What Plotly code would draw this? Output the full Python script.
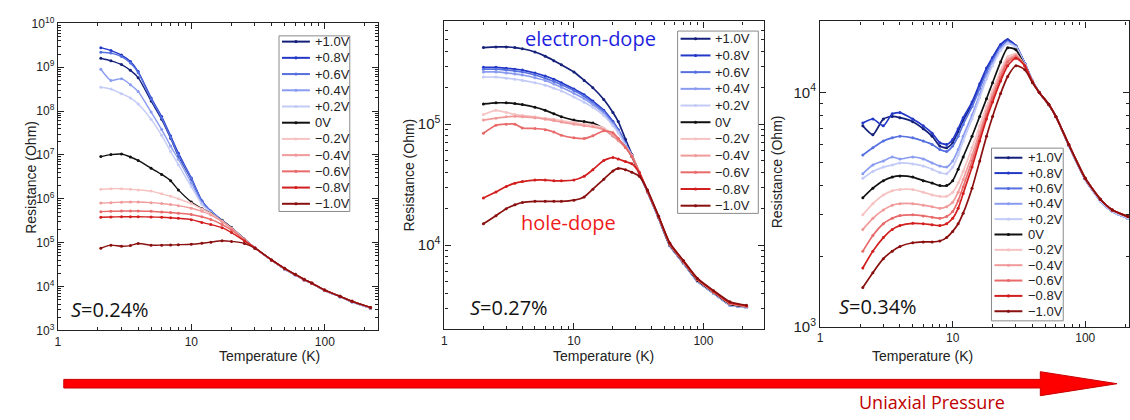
import plotly.graph_objects as go

W, H = 1130, 420

labels = ["+1.0V", "+0.8V", "+0.6V", "+0.4V", "+0.2V", "0V",
          "\u22120.2V", "\u22120.4V", "\u22120.6V", "\u22120.8V", "\u22121.0V"]
colors = ["#14207a", "#2438c8", "#5670e0", "#8a9cf0", "#c3cbf6", "#111111",
          "#f6c2c2", "#f09a9a", "#e86a6a", "#d21e1e", "#8a0f0f"]

# ---------------- Panel 1 (S=0.24%) ----------------
T1 = [2.1, 2.5, 3, 3.5, 4, 5, 6, 7, 8, 10, 12, 14, 17, 20, 25, 30, 40, 50, 60, 70, 80, 100, 130, 160, 220]
p1_p10 = [1.6e9, 1.4e9, 1.15e9, 8.5e8, 5.8e8, 1.7e8, 6.5e7, 2.4e7, 9.5e6, 2.8e6, 8.7e5, 5.1e5, 3.2e5, 2.2e5, 1.2e5, 7.6e4, 4.0e4, 2.5e4, 1.85e4, 1.42e4, 1.18e4, 8.1e3, 5.9e3, 4.5e3, 3.25e3]
p1_p08 = [2.8e9, 2.4e9, 1.9e9, 1.35e9, 8.0e8, 2.0e8, 7.5e7, 2.7e7, 1.1e7, 3.0e6, 9.0e5, 5.3e5, 3.25e5, 2.2e5, 1.2e5, 7.6e4, 4.0e4, 2.5e4, 1.85e4, 1.42e4, 1.18e4, 8.1e3, 5.9e3, 4.5e3, 3.25e3]
p1_p06 = [2.2e9, 2.1e9, 1.75e9, 1.25e9, 7.5e8, 1.9e8, 7.0e7, 2.5e7, 1.0e7, 2.9e6, 8.8e5, 5.2e5, 3.2e5, 2.2e5, 1.2e5, 7.6e4, 4.0e4, 2.5e4, 1.85e4, 1.42e4, 1.18e4, 8.1e3, 5.9e3, 4.5e3, 3.25e3]
p1_p04 = [9.0e8, 5.0e8, 5.5e8, 4.0e8, 2.8e8, 9.5e7, 3.8e7, 1.6e7, 8.0e6, 2.3e6, 8.0e5, 5.0e5, 3.15e5, 2.2e5, 1.2e5, 7.6e4, 4.0e4, 2.5e4, 1.85e4, 1.42e4, 1.18e4, 8.1e3, 5.9e3, 4.5e3, 3.25e3]
p1_p02 = [3.5e8, 3.2e8, 2.5e8, 2.0e8, 1.45e8, 6.5e7, 2.8e7, 1.2e7, 6.0e6, 1.9e6, 7.5e5, 4.9e5, 3.1e5, 2.15e5, 1.2e5, 7.6e4, 4.0e4, 2.5e4, 1.85e4, 1.42e4, 1.18e4, 8.1e3, 5.9e3, 4.5e3, 3.25e3]
p1_0 = [9.2e6, 1.02e7, 1.05e7, 9.0e6, 7.5e6, 5.0e6, 3.6e6, 2.6e6, 1.6e6, 8.5e5, 6.0e5, 4.7e5, 3.15e5, 2.2e5, 1.2e5, 7.6e4, 4.0e4, 2.55e4, 1.88e4, 1.44e4, 1.19e4, 8.2e3, 6.0e3, 4.6e3, 3.3e3]
p1_m02 = [1.65e6, 1.7e6, 1.7e6, 1.65e6, 1.6e6, 1.5e6, 1.3e6, 1.15e6, 1.0e6, 7.8e5, 5.9e5, 4.6e5, 3.1e5, 2.15e5, 1.2e5, 7.6e4, 4.0e4, 2.55e4, 1.88e4, 1.44e4, 1.19e4, 8.2e3, 6.0e3, 4.6e3, 3.3e3]
p1_m04 = [8.0e5, 8.2e5, 8.4e5, 8.5e5, 8.5e5, 8.2e5, 7.8e5, 7.4e5, 7.0e5, 6.1e5, 5.2e5, 4.3e5, 3.0e5, 2.1e5, 1.18e5, 7.6e4, 4.0e4, 2.55e4, 1.88e4, 1.44e4, 1.19e4, 8.2e3, 6.0e3, 4.6e3, 3.3e3]
p1_m06 = [5.1e5, 5.2e5, 5.3e5, 5.3e5, 5.3e5, 5.2e5, 5.0e5, 4.9e5, 4.7e5, 4.4e5, 3.9e5, 3.4e5, 2.6e5, 1.95e5, 1.15e5, 7.6e4, 4.0e4, 2.55e4, 1.88e4, 1.44e4, 1.19e4, 8.2e3, 6.0e3, 4.6e3, 3.3e3]
p1_m08 = [3.8e5, 3.85e5, 3.9e5, 3.9e5, 3.9e5, 3.85e5, 3.8e5, 3.7e5, 3.6e5, 3.35e5, 2.9e5, 2.6e5, 2.2e5, 1.7e5, 1.1e5, 7.6e4, 4.05e4, 2.6e4, 1.9e4, 1.46e4, 1.2e4, 8.3e3, 6.0e3, 4.6e3, 3.35e3]
p1_m10 = [7.5e4, 8.8e4, 8.3e4, 8.6e4, 9.6e4, 8.8e4, 8.8e4, 8.9e4, 9.0e4, 9.2e4, 9.7e4, 1.03e5, 1.11e5, 1.07e5, 9.6e4, 7.5e4, 4.05e4, 2.6e4, 1.9e4, 1.46e4, 1.2e4, 8.3e3, 6.0e3, 4.6e3, 3.35e3]

# ---------------- Panel 2 (S=0.27%) ----------------
T2 = [2.0, 2.5, 3, 3.5, 4, 5, 6, 7, 8, 10, 12, 14, 17, 20, 22, 25, 28, 32, 37, 45, 55, 70, 90, 120, 160, 215]
p2_p10 = [4.3e5, 4.35e5, 4.35e5, 4.3e5, 4.2e5, 3.95e5, 3.65e5, 3.35e5, 3.1e5, 2.7e5, 2.3e5, 2.0e5, 1.6e5, 1.25e5, 1.05e5, 7.5e4, 5.6e4, 3.95e4, 2.75e4, 1.68e4, 9.9e3, 7.1e3, 5.0e3, 4.0e3, 3.2e3, 3.05e3]
p2_p08 = [2.95e5, 2.95e5, 2.9e5, 2.85e5, 2.8e5, 2.65e5, 2.5e5, 2.35e5, 2.2e5, 1.95e5, 1.75e5, 1.55e5, 1.3e5, 1.05e5, 9.0e4, 7.0e4, 5.5e4, 3.95e4, 2.75e4, 1.68e4, 9.9e3, 7.1e3, 5.0e3, 4.0e3, 3.2e3, 3.05e3]
p2_p06 = [2.85e5, 2.85e5, 2.8e5, 2.75e5, 2.7e5, 2.55e5, 2.4e5, 2.25e5, 2.12e5, 1.9e5, 1.7e5, 1.5e5, 1.27e5, 1.03e5, 8.9e4, 6.9e4, 5.5e4, 3.95e4, 2.75e4, 1.68e4, 9.9e3, 7.1e3, 5.0e3, 4.0e3, 3.2e3, 3.05e3]
p2_p04 = [2.7e5, 2.7e5, 2.65e5, 2.6e5, 2.55e5, 2.42e5, 2.3e5, 2.15e5, 2.02e5, 1.8e5, 1.62e5, 1.45e5, 1.23e5, 1.0e5, 8.7e4, 6.8e4, 5.5e4, 3.95e4, 2.75e4, 1.68e4, 9.9e3, 7.1e3, 5.0e3, 4.0e3, 3.2e3, 3.05e3]
p2_p02 = [2.45e5, 2.45e5, 2.4e5, 2.35e5, 2.3e5, 2.2e5, 2.1e5, 1.98e5, 1.88e5, 1.68e5, 1.52e5, 1.38e5, 1.18e5, 9.7e4, 8.5e4, 6.7e4, 5.4e4, 3.95e4, 2.75e4, 1.68e4, 9.9e3, 7.1e3, 5.0e3, 4.0e3, 3.2e3, 3.05e3]
p2_0 = [1.47e5, 1.5e5, 1.5e5, 1.48e5, 1.45e5, 1.38e5, 1.3e5, 1.22e5, 1.15e5, 1.08e5, 1.05e5, 1.02e5, 9.2e4, 8.0e4, 7.4e4, 6.5e4, 5.4e4, 3.95e4, 2.78e4, 1.7e4, 1.0e4, 7.2e3, 5.1e3, 4.05e3, 3.25e3, 3.1e3]
p2_m02 = [1.2e5, 1.3e5, 1.25e5, 1.2e5, 1.18e5, 1.15e5, 1.12e5, 1.1e5, 1.07e5, 1.03e5, 1.0e5, 9.8e4, 9.3e4, 8.2e4, 7.5e4, 6.5e4, 5.5e4, 4.0e4, 2.8e4, 1.72e4, 1.02e4, 7.3e3, 5.2e3, 4.1e3, 3.3e3, 3.12e3]
p2_m04 = [1.08e5, 1.12e5, 1.15e5, 1.16e5, 1.15e5, 1.13e5, 1.1e5, 1.07e5, 1.04e5, 1.0e5, 9.7e4, 9.5e4, 9.0e4, 8.0e4, 7.3e4, 6.4e4, 5.5e4, 4.0e4, 2.8e4, 1.72e4, 1.02e4, 7.3e3, 5.2e3, 4.1e3, 3.3e3, 3.12e3]
p2_m06 = [8.4e4, 9.8e4, 1.0e5, 1.0e5, 9.3e4, 9.2e4, 9.0e4, 8.6e4, 8.1e4, 7.7e4, 7.6e4, 8.0e4, 8.8e4, 8.5e4, 7.6e4, 6.4e4, 5.4e4, 4.0e4, 2.8e4, 1.72e4, 1.02e4, 7.3e3, 5.2e3, 4.1e3, 3.3e3, 3.12e3]
p2_m08 = [2.45e4, 2.75e4, 3.05e4, 3.25e4, 3.35e4, 3.45e4, 3.45e4, 3.4e4, 3.4e4, 3.45e4, 3.7e4, 4.2e4, 5.0e4, 5.3e4, 5.15e4, 4.9e4, 4.7e4, 3.95e4, 2.8e4, 1.73e4, 1.03e4, 7.4e3, 5.25e3, 4.15e3, 3.35e3, 3.15e3]
p2_m10 = [1.5e4, 1.75e4, 2.0e4, 2.15e4, 2.25e4, 2.3e4, 2.3e4, 2.3e4, 2.3e4, 2.35e4, 2.5e4, 2.9e4, 3.5e4, 4.1e4, 4.3e4, 4.2e4, 4.0e4, 3.7e4, 2.85e4, 1.74e4, 1.04e4, 7.45e3, 5.3e3, 4.2e3, 3.4e3, 3.18e3]

# ---------------- Panel 3 (S=0.34%) ----------------
T3 = [2.1, 2.5, 3, 3.5, 4, 5, 6, 7, 8, 9, 10, 11, 12, 14, 16, 18, 20, 23, 26, 30, 35, 40, 45, 53, 60, 75, 100, 130, 160, 210]
p3_p10 = [7.2e3, 6.6e3, 7.7e3, 7.9e3, 7.8e3, 7.5e3, 7.0e3, 6.5e3, 5.9e3, 5.8e3, 6.1e3, 6.8e3, 7.6e3, 8.9e3, 1.07e4, 1.25e4, 1.4e4, 1.6e4, 1.68e4, 1.58e4, 1.33e4, 1.12e4, 1.0e4, 8.85e3, 7.9e3, 5.95e3, 4.25e3, 3.45e3, 3.1e3, 2.9e3]
p3_p08 = [7.4e3, 7.7e3, 7.2e3, 8.1e3, 8.2e3, 7.7e3, 7.2e3, 6.7e3, 6.1e3, 6.0e3, 6.3e3, 7.0e3, 7.8e3, 9.1e3, 1.09e4, 1.27e4, 1.41e4, 1.6e4, 1.68e4, 1.58e4, 1.33e4, 1.12e4, 1.0e4, 8.85e3, 7.9e3, 5.95e3, 4.25e3, 3.45e3, 3.1e3, 2.9e3]
p3_p06 = [5.4e3, 5.8e3, 6.2e3, 6.4e3, 6.5e3, 6.4e3, 6.2e3, 6.0e3, 5.7e3, 5.6e3, 5.9e3, 6.5e3, 7.3e3, 8.7e3, 1.04e4, 1.22e4, 1.37e4, 1.56e4, 1.65e4, 1.57e4, 1.33e4, 1.12e4, 1.0e4, 8.85e3, 7.9e3, 5.95e3, 4.25e3, 3.45e3, 3.1e3, 2.9e3]
p3_p04 = [4.5e3, 4.9e3, 5.1e3, 5.3e3, 5.2e3, 5.3e3, 5.2e3, 5.0e3, 4.85e3, 4.8e3, 5.1e3, 5.7e3, 6.5e3, 8.0e3, 9.8e3, 1.17e4, 1.33e4, 1.53e4, 1.63e4, 1.56e4, 1.32e4, 1.12e4, 1.0e4, 8.85e3, 7.9e3, 5.95e3, 4.25e3, 3.45e3, 3.1e3, 2.9e3]
p3_p02 = [4.3e3, 4.6e3, 4.8e3, 4.9e3, 5.0e3, 4.95e3, 4.85e3, 4.7e3, 4.55e3, 4.5e3, 4.8e3, 5.4e3, 6.2e3, 7.7e3, 9.5e3, 1.14e4, 1.3e4, 1.51e4, 1.62e4, 1.56e4, 1.32e4, 1.12e4, 1.0e4, 8.85e3, 7.9e3, 5.95e3, 4.25e3, 3.45e3, 3.1e3, 2.9e3]
p3_0 = [3.55e3, 3.9e3, 4.2e3, 4.35e3, 4.4e3, 4.35e3, 4.2e3, 4.1e3, 4.0e3, 4.0e3, 4.2e3, 4.7e3, 5.3e3, 6.5e3, 7.9e3, 9.4e3, 1.1e4, 1.35e4, 1.55e4, 1.52e4, 1.3e4, 1.11e4, 1.0e4, 8.9e3, 7.9e3, 6.0e3, 4.3e3, 3.5e3, 3.15e3, 2.95e3]
p3_m02 = [3.0e3, 3.35e3, 3.65e3, 3.8e3, 3.85e3, 3.85e3, 3.75e3, 3.65e3, 3.6e3, 3.6e3, 3.75e3, 4.1e3, 4.6e3, 5.8e3, 7.2e3, 8.7e3, 1.02e4, 1.24e4, 1.42e4, 1.46e4, 1.3e4, 1.11e4, 1.0e4, 8.9e3, 7.9e3, 6.0e3, 4.3e3, 3.5e3, 3.15e3, 2.95e3]
p3_m04 = [2.6e3, 2.9e3, 3.15e3, 3.3e3, 3.35e3, 3.35e3, 3.3e3, 3.25e3, 3.2e3, 3.25e3, 3.4e3, 3.75e3, 4.25e3, 5.4e3, 6.8e3, 8.3e3, 9.8e3, 1.2e4, 1.38e4, 1.44e4, 1.3e4, 1.11e4, 1.0e4, 8.9e3, 7.9e3, 6.0e3, 4.3e3, 3.5e3, 3.15e3, 2.95e3]
p3_m06 = [2.1e3, 2.45e3, 2.75e3, 2.9e3, 2.98e3, 3.0e3, 2.97e3, 2.93e3, 2.9e3, 2.95e3, 3.1e3, 3.45e3, 3.95e3, 5.1e3, 6.5e3, 8.0e3, 9.5e3, 1.16e4, 1.35e4, 1.42e4, 1.3e4, 1.11e4, 1.0e4, 8.9e3, 7.9e3, 6.0e3, 4.3e3, 3.5e3, 3.15e3, 2.95e3]
p3_m08 = [1.78e3, 2.1e3, 2.4e3, 2.6e3, 2.7e3, 2.76e3, 2.75e3, 2.72e3, 2.7e3, 2.75e3, 2.9e3, 3.2e3, 3.7e3, 4.8e3, 6.2e3, 7.7e3, 9.1e3, 1.12e4, 1.3e4, 1.4e4, 1.3e4, 1.11e4, 1.0e4, 8.9e3, 7.9e3, 6.0e3, 4.3e3, 3.5e3, 3.15e3, 2.95e3]
p3_m10 = [1.47e3, 1.7e3, 1.95e3, 2.1e3, 2.2e3, 2.28e3, 2.3e3, 2.3e3, 2.32e3, 2.4e3, 2.55e3, 2.75e3, 3.05e3, 3.9e3, 5.1e3, 6.5e3, 7.9e3, 9.9e3, 1.17e4, 1.3e4, 1.25e4, 1.1e4, 1.0e4, 8.9e3, 7.9e3, 6.0e3, 4.3e3, 3.5e3, 3.15e3, 2.95e3]

# tick labels
xtick_vals = [1, 10, 100]
xtick_text = ["1", "10", "100"]
x_minor = [2, 3, 4, 5, 6, 7, 8, 9, 20, 30, 40, 50, 60, 70, 80, 90, 200, 300]
y1_vals = [1e3, 1e4, 1e5, 1e6, 1e7, 1e8, 1e9, 1e10]
y1_text = ["10<sup>3</sup>", "10<sup>4</sup>", "10<sup>5</sup>", "10<sup>6</sup>",
           "10<sup>7</sup>", "10<sup>8</sup>", "10<sup>9</sup>", "10<sup>10</sup>"]
y2_vals = [1e4, 1e5]
y2_text = ["10<sup>4</sup>", "10<sup>5</sup>"]
y3_vals = [1e3, 1e4]
y3_text = ["10<sup>3</sup>", "10<sup>4</sup>"]
strain_text = ["0.24%", "0.27%", "0.34%"]

panels = [
    (T1, [p1_p10, p1_p08, p1_p06, p1_p04, p1_p02, p1_0, p1_m02, p1_m04, p1_m06, p1_m08, p1_m10], "x", "y", 1.4),
    (T2, [p2_p10, p2_p08, p2_p06, p2_p04, p2_p02, p2_0, p2_m02, p2_m04, p2_m06, p2_m08, p2_m10], "x2", "y2", 1.7),
    (T3, [p3_p10, p3_p08, p3_p06, p3_p04, p3_p02, p3_0, p3_m02, p3_m04, p3_m06, p3_m08, p3_m10], "x3", "y3", 1.7),
]

fig = go.Figure()
for T, series, xa, ya, lw in panels:
    for lab, col, vals in zip(labels, colors, series):
        fig.add_trace(go.Scatter(
            x=T, y=vals, name=lab, xaxis=xa, yaxis=ya, showlegend=False,
            mode="lines+markers",
            line=dict(color=col, width=lw, shape="spline", smoothing=0.6),
            marker=dict(color=col, size=3),
            hoverinfo="skip"))


def px(x):
    return x / W


def py(y):
    return 1 - y / H


FONT = "Liberation Sans, Arial, sans-serif"
axis_common = dict(type="log", showline=True, linecolor="#222", linewidth=1.2,
                   mirror="ticks", ticks="inside", ticklen=6, tickcolor="#222",
                   showgrid=False, zeroline=False)


def xaxis(x0, x1, rmax, anchor):
    return dict(axis_common, domain=[px(x0), px(x1)], range=[0, rmax], anchor=anchor,
                tickvals=xtick_vals, ticktext=xtick_text,
                tickfont=dict(family=FONT, size=12, color="#222"),
                minor=dict(ticks="inside", ticklen=3, tickcolor="#222", tickvals=x_minor, showgrid=False))


def yaxis(y0, y1, rng, anchor, vals, text, fs):
    return dict(axis_common, domain=[py(y1), py(y0)], range=rng, anchor=anchor,
                tickvals=vals, ticktext=text,
                tickfont=dict(family=FONT, size=fs, color="#222"),
                minor=dict(ticks="inside", ticklen=3, tickcolor="#222", dtick="D1", showgrid=False))


fig.update_layout(
    width=W, height=H, margin=dict(l=0, r=0, t=0, b=0),
    paper_bgcolor="white", plot_bgcolor="white", showlegend=False,
    xaxis=xaxis(55, 376, 2.396, "y"),
    yaxis=yaxis(15, 335, [3, 10], "x", y1_vals, y1_text, 12),
    xaxis2=xaxis(443, 764, 2.47, "y2"),
    yaxis2=yaxis(13, 334, [3.302, 5.849], "x2", y2_vals, y2_text, 15),
    xaxis3=xaxis(820, 1130, 2.33, "y3"),
    yaxis3=yaxis(13, 331, [3.0, 4.303], "x3", y3_vals, y3_text, 15),
)

ann = []
shapes = []

# legends (one boxed key per panel): box, row start, row step, line x0, line x1, text x
legend_boxes = [
    ((277, 28, 348, 211), 34.0, 16.9, 280, 308, 311),
    ((677, 23, 758, 213), 31.0, 17.4, 680, 710, 713),
    ((992, 145, 1064, 325), 155.0, 16.0, 995, 1023, 1027),
]
for (bx0, by0, bx1, by1), r0, dr, lx0, lx1, tx in legend_boxes:
    shapes.append(dict(type="rect", xref="paper", yref="paper", x0=px(bx0), x1=px(bx1),
                       y0=py(by1), y1=py(by0), fillcolor="white", line=dict(color="#8a8a8a", width=1)))
    for i, (lab, col) in enumerate(zip(labels, colors)):
        yy = r0 + i * dr
        shapes.append(dict(type="line", xref="paper", yref="paper", x0=px(lx0), x1=px(lx1),
                           y0=py(yy), y1=py(yy), line=dict(color=col, width=2)))
        cx = (lx0 + lx1) / 2
        shapes.append(dict(type="circle", xref="paper", yref="paper", x0=px(cx - 1.6), x1=px(cx + 1.6),
                           y0=py(yy + 1.6), y1=py(yy - 1.6), fillcolor=col, line=dict(color=col, width=0)))
        ann.append(dict(x=px(tx), y=py(yy), xanchor="left", yanchor="middle", showarrow=False,
                        text=lab, xref="paper", yref="paper",
                        font=dict(family=FONT, size=13, color="#222")))

# axis titles
for cx in [215, 603, 975]:
    ann.append(dict(x=px(cx), y=py(372), text="Temperature (K)", showarrow=False,
                    xref="paper", yref="paper", font=dict(family=FONT, size=14, color="#222")))
for cx, cy in [(18, 175), (407, 173), (787, 170)]:
    ann.append(dict(x=px(cx), y=py(cy), text="Resistance (Ohm)", showarrow=False, textangle=-90,
                    xref="paper", yref="paper", font=dict(family=FONT, size=14, color="#222")))
# strain labels
for (x0, yc), t in zip([(66, 313), (467, 311), (837, 310)], strain_text):
    ann.append(dict(x=px(x0), y=py(yc), xanchor="left", yanchor="middle", showarrow=False,
                    text="<i>S</i>=" + t, xref="paper", yref="paper",
                    font=dict(family="Open Sans, sans-serif", size=20, color="#111")))
ann.append(dict(x=px(522), y=py(31), xanchor="left", yanchor="middle", showarrow=False,
                text="electron-dope", xref="paper", yref="paper",
                font=dict(family="Open Sans, sans-serif", size=20, color="#1f1fe0")))
ann.append(dict(x=px(518), y=py(223), xanchor="left", yanchor="middle", showarrow=False,
                text="hole-dope", xref="paper", yref="paper",
                font=dict(family="Open Sans, sans-serif", size=20, color="#ee1c1c")))
ann.append(dict(x=px(932), y=py(410), xanchor="center", yanchor="middle", showarrow=False,
                text="Uniaxial Pressure", xref="paper", yref="paper",
                font=dict(family="Open Sans, sans-serif", size=18, color="#c00000")))

# big arrow (decoration)
path = (f"M {px(61)} {py(386)} L {px(1041)} {py(386)} L {px(1041)} {py(378)} "
        f"L {px(1118)} {py(390.5)} L {px(1041)} {py(403)} L {px(1041)} {py(395)} "
        f"L {px(61)} {py(395)} Z")
shapes.append(dict(type="path", path=path, xref="paper", yref="paper",
                   fillcolor="#ff0000", line=dict(color="#c80000", width=1)))

fig.update_layout(annotations=ann, shapes=shapes)

fig.write_html("out.html", config={"displayModeBar": False},
               post_script="document.body.style.margin='0';document.body.style.overflow='hidden';")
